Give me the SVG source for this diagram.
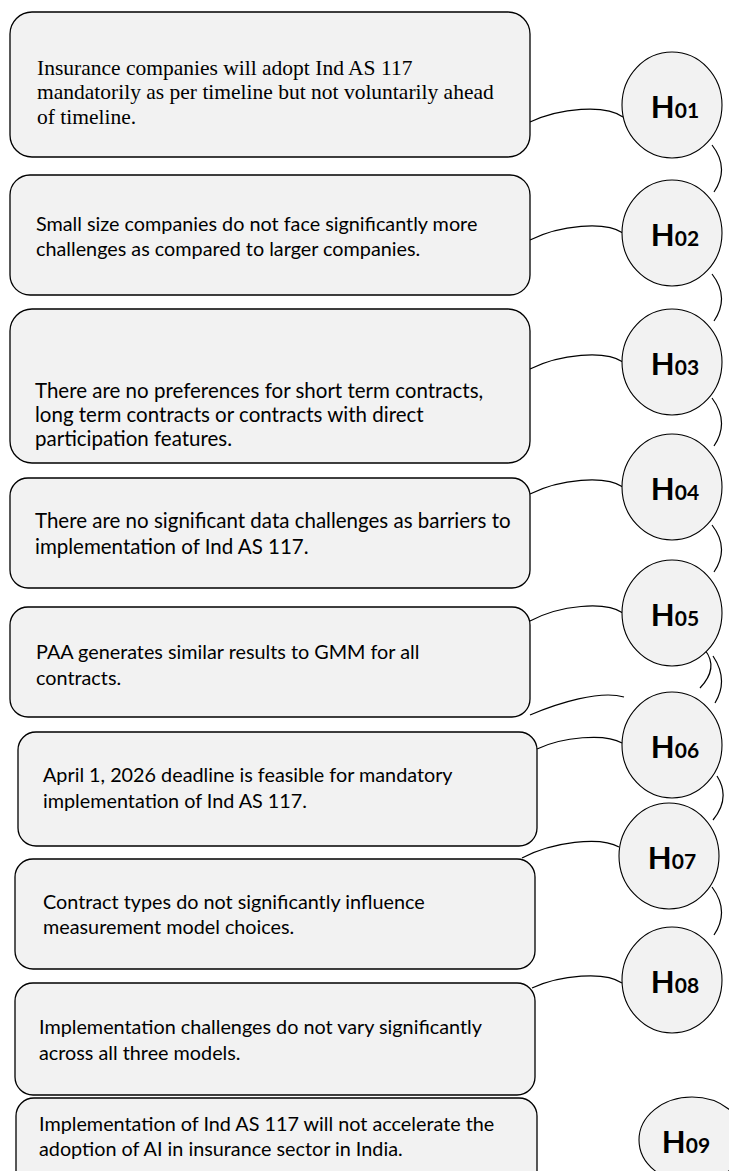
<svg xmlns="http://www.w3.org/2000/svg" width="729" height="1171" viewBox="0 0 729 1171">
<style>
.box{fill:#f2f2f2;stroke:#000;stroke-width:1.3}
.hc{fill:#f2f2f2;stroke:#000;stroke-width:1.1}
.t{font-family:Lato,"Open Sans",sans-serif;font-size:19.8px;fill:#000}
.tl{font-size:20.5px}
.ts{font-family:"Liberation Serif","Times New Roman",serif;font-size:21.5px;fill:#000}
.h{font-family:Lato,"Open Sans",sans-serif;font-weight:bold;fill:#000;text-anchor:middle}
.hb{font-size:31px}
.hn{font-size:21px}
.c{fill:none;stroke:#000;stroke-width:1.2}
</style>
<g id="connectors">
<path class="c" d="M530,122 C560,108 605,104 623,117"/>
<path class="c" d="M530,240 C560,225 605,221 623,233"/>
<path class="c" d="M530,369 C560,354 605,350 623,362"/>
<path class="c" d="M530,494 C560,479 605,475 623,487"/>
<path class="c" d="M530,621 C560,605 605,601 623,613"/>
<path class="c" d="M530,715 C558,703 600,690 624,697"/>
<path class="c" d="M537,749 C562,737 605,733 622,743"/>
<path class="c" d="M522,858 C552,842 600,836 619,847"/>
<path class="c" d="M532,988 C560,975 605,971 622,983"/>
<path class="c" d="M712,145 Q730,168 714,192"/>
<path class="c" d="M712,274 Q730,297 714,321"/>
<path class="c" d="M712,398 Q730,422 714,446"/>
<path class="c" d="M712,525 Q730,548 714,572"/>
<path class="c" d="M705,650 Q719,668 700,688"/>
<path class="c" d="M713,656 Q729,680 715,703"/>
<path class="c" d="M717,776 Q731,798 713,820"/>
<path class="c" d="M712,887 Q730,911 714,935"/>
</g>
<g id="box1"><rect class="box" x="10" y="12" width="520" height="145" rx="22"/>
<text class="ts" x="37" y="75">Insurance companies will adopt Ind AS 117</text>
<text class="ts" x="37" y="99">mandatorily as per timeline but not voluntarily ahead</text>
<text class="ts" x="37" y="124">of timeline.</text></g>
<g id="box2"><rect class="box" x="10" y="175" width="520" height="120" rx="20"/>
<text class="t" x="36" y="231">Small size companies do not face significantly more</text>
<text class="t" x="36" y="256">challenges as compared to larger companies.</text></g>
<g id="box3"><rect class="box" x="10" y="309" width="520" height="154" rx="22"/>
<text class="t tl" x="35" y="398">There are no preferences for short term contracts,</text>
<text class="t tl" x="35" y="422">long term contracts or contracts with direct</text>
<text class="t tl" x="35" y="446">participation features.</text></g>
<g id="box4"><rect class="box" x="10" y="478" width="520" height="110" rx="18"/>
<text class="t tl" x="35" y="528">There are no significant data challenges as barriers to</text>
<text class="t tl" x="35" y="554">implementation of Ind AS 117.</text></g>
<g id="box5"><rect class="box" x="10" y="607" width="520" height="110" rx="18"/>
<text class="t" x="36" y="659">PAA generates similar results to GMM for all</text>
<text class="t" x="36" y="685">contracts.</text></g>
<g id="box6"><rect class="box" x="18" y="732" width="519" height="114" rx="18"/>
<text class="t" x="43" y="782">April 1, 2026 deadline is feasible for mandatory</text>
<text class="t" x="43" y="808">implementation of Ind AS 117.</text></g>
<g id="box7"><rect class="box" x="15" y="859" width="520" height="110" rx="18"/>
<text class="t" x="43" y="909">Contract types do not significantly influence</text>
<text class="t" x="43" y="934">measurement model choices.</text></g>
<g id="box8"><rect class="box" x="15" y="983" width="520" height="112" rx="18"/>
<text class="t" x="39" y="1034">Implementation challenges do not vary significantly</text>
<text class="t" x="39" y="1060">across all three models.</text></g>
<g id="box9"><rect class="box" x="16" y="1098" width="521" height="100" rx="18"/>
<text class="t" x="39" y="1131">Implementation of Ind AS 117 will not accelerate the</text>
<text class="t" x="39" y="1156">adoption of AI in insurance sector in India.</text></g>
<g id="H01"><ellipse class="hc" cx="672" cy="105" rx="50" ry="53"/><text class="h" x="675" y="118"><tspan class="hb">H</tspan><tspan class="hn">01</tspan></text></g>
<g id="H02"><ellipse class="hc" cx="672" cy="233" rx="50" ry="53"/><text class="h" x="675" y="246"><tspan class="hb">H</tspan><tspan class="hn">02</tspan></text></g>
<g id="H03"><ellipse class="hc" cx="672" cy="362" rx="50" ry="53"/><text class="h" x="675" y="375"><tspan class="hb">H</tspan><tspan class="hn">03</tspan></text></g>
<g id="H04"><ellipse class="hc" cx="672" cy="487" rx="50" ry="53"/><text class="h" x="675" y="500"><tspan class="hb">H</tspan><tspan class="hn">04</tspan></text></g>
<g id="H05"><ellipse class="hc" cx="672" cy="613" rx="50" ry="53"/><text class="h" x="675" y="626"><tspan class="hb">H</tspan><tspan class="hn">05</tspan></text></g>
<g id="H06"><ellipse class="hc" cx="672" cy="745" rx="50" ry="53"/><text class="h" x="675" y="758"><tspan class="hb">H</tspan><tspan class="hn">06</tspan></text></g>
<g id="H07"><ellipse class="hc" cx="669" cy="856" rx="50" ry="53"/><text class="h" x="672" y="869"><tspan class="hb">H</tspan><tspan class="hn">07</tspan></text></g>
<g id="H08"><ellipse class="hc" cx="672" cy="980" rx="50" ry="53"/><text class="h" x="675" y="993"><tspan class="hb">H</tspan><tspan class="hn">08</tspan></text></g>
<g id="H09"><ellipse class="hc" cx="692" cy="1140" rx="53" ry="43"/><text class="h" x="686" y="1153"><tspan class="hb">H</tspan><tspan class="hn">09</tspan></text></g>
</svg>
